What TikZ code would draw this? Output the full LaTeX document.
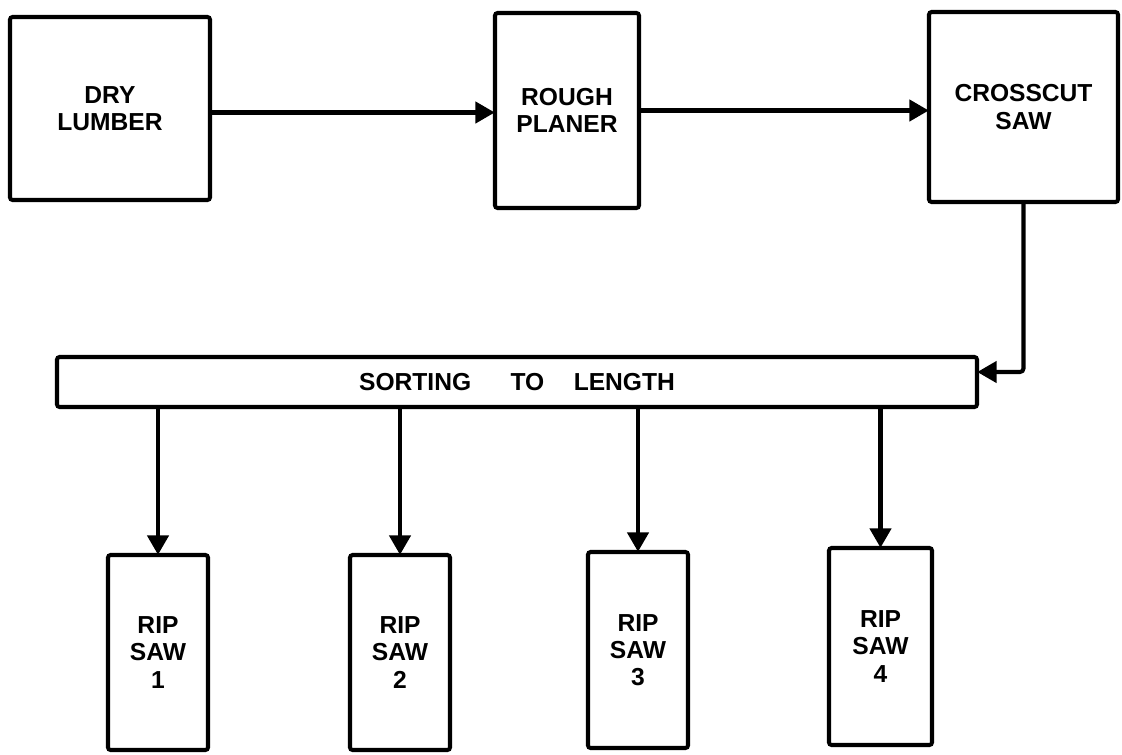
\documentclass[tikz,border=0pt]{standalone}
\usepackage{fontspec}
\setmainfont{Liberation Sans}
\usetikzlibrary{arrows.meta}
\begin{document}
\begin{tikzpicture}[x=0.02cm,y=-0.02cm,
  blk/.style={draw=black, line width=2.3pt, rounded corners=1.5pt, inner sep=0pt,
    align=center, font=\bfseries\fontsize{14}{15.5}\selectfont},
  flow/.style={line width=2.3pt, -{Triangle[length=11pt,width=12pt]}, shorten >=-1pt}]
\useasboundingbox (0,0) rectangle (1122,754);
\node[blk, minimum width=200*0.02cm, minimum height=183*0.02cm] (dry) at (110,108.5) {DRY\\LUMBER};
\node[blk, minimum width=144*0.02cm, minimum height=195*0.02cm] (planer) at (567,110.5) {ROUGH\\PLANER};
\node[blk, minimum width=189*0.02cm, minimum height=190*0.02cm] (cross) at (1023.5,107) {CROSSCUT\\SAW};
\node[blk, minimum width=920*0.02cm, minimum height=50*0.02cm] (bar) at (517,382) {SORTING\hspace{1.6em}TO\hspace{1.2em}LENGTH};
\node[blk, minimum width=100*0.02cm, minimum height=195*0.02cm] (rip1) at (158,652.5) {RIP\\SAW\\1};
\node[blk, minimum width=100*0.02cm, minimum height=195*0.02cm] (rip2) at (400,652.5) {RIP\\SAW\\2};
\node[blk, minimum width=100*0.02cm, minimum height=196*0.02cm] (rip3) at (638,650) {RIP\\SAW\\3};
\node[blk, minimum width=103*0.02cm, minimum height=197*0.02cm] (rip4) at (880.5,646.5) {RIP\\SAW\\4};
\draw[flow] ([yshift=-0.08cm]dry.east) -- ([yshift=-0.08cm]dry.east -| planer.west);
\draw[flow] (planer.east) -- (planer.east -| cross.west);
\draw[flow, rounded corners=2pt] (cross.south) |- ([yshift=0.2cm]bar.east);
\foreach \r in {rip1,rip2,rip3,rip4}
  \draw[flow] (bar.south -| \r.north) -- (\r.north);
\end{tikzpicture}
\end{document}
